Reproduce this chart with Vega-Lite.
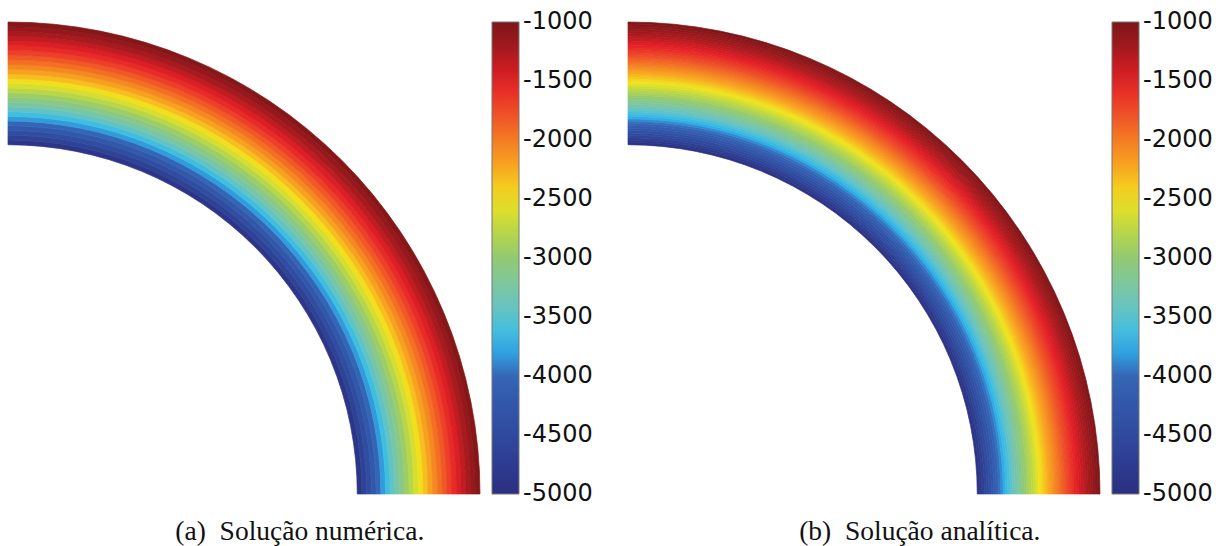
{
  "$schema": "https://vega.github.io/schema/vega-lite/v6.json",
  "padding": {"left": 6, "top": 20, "right": 0, "bottom": 0},
  "background": "white",
  "config": {"view": {"stroke": null}, "font": "DejaVu Sans"},
  "datasets": {
    "numerica": [
      {"r0": 74, "r1": 75, "v": -4880}, {"r0": 75, "r1": 76, "v": -4650}, {"r0": 76, "r1": 77, "v": -4430},
      {"r0": 77, "r1": 78, "v": -4220}, {"r0": 78, "r1": 79, "v": -4020}, {"r0": 79, "r1": 80, "v": -3820},
      {"r0": 80, "r1": 81, "v": -3630}, {"r0": 81, "r1": 82, "v": -3450}, {"r0": 82, "r1": 83, "v": -3270},
      {"r0": 83, "r1": 84, "v": -3100}, {"r0": 84, "r1": 85, "v": -2940}, {"r0": 85, "r1": 86, "v": -2780},
      {"r0": 86, "r1": 87, "v": -2630}, {"r0": 87, "r1": 88, "v": -2480}, {"r0": 88, "r1": 89, "v": -2340},
      {"r0": 89, "r1": 90, "v": -2200}, {"r0": 90, "r1": 91, "v": -2070}, {"r0": 91, "r1": 92, "v": -1940},
      {"r0": 92, "r1": 93, "v": -1820}, {"r0": 93, "r1": 94, "v": -1700}, {"r0": 94, "r1": 95, "v": -1580},
      {"r0": 95, "r1": 96, "v": -1470}, {"r0": 96, "r1": 97, "v": -1360}, {"r0": 97, "r1": 98, "v": -1250},
      {"r0": 98, "r1": 99, "v": -1150}, {"r0": 99, "r1": 100, "v": -1050}
    ],
    "analitica": [
      {"r0": 74, "r1": 74.5, "v": -4941}, {"r0": 74.5, "r1": 75, "v": -4824}, {"r0": 75, "r1": 75.5, "v": -4709},
      {"r0": 75.5, "r1": 76, "v": -4597}, {"r0": 76, "r1": 76.5, "v": -4487}, {"r0": 76.5, "r1": 77, "v": -4378},
      {"r0": 77, "r1": 77.5, "v": -4272}, {"r0": 77.5, "r1": 78, "v": -4168}, {"r0": 78, "r1": 78.5, "v": -4066},
      {"r0": 78.5, "r1": 79, "v": -3966}, {"r0": 79, "r1": 79.5, "v": -3868}, {"r0": 79.5, "r1": 80, "v": -3772},
      {"r0": 80, "r1": 80.5, "v": -3677}, {"r0": 80.5, "r1": 81, "v": -3584}, {"r0": 81, "r1": 81.5, "v": -3493},
      {"r0": 81.5, "r1": 82, "v": -3404}, {"r0": 82, "r1": 82.5, "v": -3316}, {"r0": 82.5, "r1": 83, "v": -3230},
      {"r0": 83, "r1": 83.5, "v": -3145}, {"r0": 83.5, "r1": 84, "v": -3062}, {"r0": 84, "r1": 84.5, "v": -2980},
      {"r0": 84.5, "r1": 85, "v": -2900}, {"r0": 85, "r1": 85.5, "v": -2821}, {"r0": 85.5, "r1": 86, "v": -2744},
      {"r0": 86, "r1": 86.5, "v": -2667}, {"r0": 86.5, "r1": 87, "v": -2592}, {"r0": 87, "r1": 87.5, "v": -2519},
      {"r0": 87.5, "r1": 88, "v": -2447}, {"r0": 88, "r1": 88.5, "v": -2376}, {"r0": 88.5, "r1": 89, "v": -2306},
      {"r0": 89, "r1": 89.5, "v": -2237}, {"r0": 89.5, "r1": 90, "v": -2170}, {"r0": 90, "r1": 90.5, "v": -2103},
      {"r0": 90.5, "r1": 91, "v": -2038}, {"r0": 91, "r1": 91.5, "v": -1973}, {"r0": 91.5, "r1": 92, "v": -1910},
      {"r0": 92, "r1": 92.5, "v": -1848}, {"r0": 92.5, "r1": 93, "v": -1787}, {"r0": 93, "r1": 93.5, "v": -1727},
      {"r0": 93.5, "r1": 94, "v": -1668}, {"r0": 94, "r1": 94.5, "v": -1609}, {"r0": 94.5, "r1": 95, "v": -1552},
      {"r0": 95, "r1": 95.5, "v": -1495}, {"r0": 95.5, "r1": 96, "v": -1440}, {"r0": 96, "r1": 96.5, "v": -1385},
      {"r0": 96.5, "r1": 97, "v": -1331}, {"r0": 97, "r1": 97.5, "v": -1278}, {"r0": 97.5, "r1": 98, "v": -1226},
      {"r0": 98, "r1": 98.5, "v": -1175}, {"r0": 98.5, "r1": 99, "v": -1124}, {"r0": 99, "r1": 99.5, "v": -1074},
      {"r0": 99.5, "r1": 100, "v": -1025}
    ]
  },
  "spacing": 33,
  "resolve": {"scale": {"color": "independent"}, "legend": {"color": "independent"}},
  "hconcat": [
    {
      "width": 472, "height": 472,
      "data": {"name": "numerica"},
      "title": {"text": "(a)\u2002Solução numérica.", "orient": "bottom", "frame": "bounds", "anchor": "middle", "font": "Liberation Serif", "fontSize": 27.5, "fontWeight": "normal", "color": "#111111", "offset": 12},
      "mark": {"type": "arc", "theta": 0, "theta2": 1.5707963, "stroke": {"expr": "scale('concat_0_color', datum.v)"}, "strokeWidth": 0.7},
      "encoding": {
        "x": {"datum": 0, "type": "quantitative", "scale": {"domain": [0, 100]}, "axis": null},
        "y": {"datum": 0, "type": "quantitative", "scale": {"domain": [0, 100]}, "axis": null},
        "radius": {"field": "r0", "type": "quantitative", "scale": {"type": "linear", "domain": [0, 100], "range": [0, 472], "zero": true}},
        "radius2": {"field": "r1"},
        "color": {"field": "v", "type": "quantitative",
          "scale": {"type": "linear", "domain": [-5000,-4750,-4500,-4250,-4000,-3875,-3750,-3625,-3500,-3250,-3000,-2750,-2500,-2250,-2000,-1750,-1500,-1250,-1000],
                    "range": ["#2b2f80","#2e3c90","#2f4a9e","#3256aa","#3566b6","#3488d0","#2eb4ea","#40bee0","#5cc2cc","#7cc6a4","#92ca72","#bcd844","#f2e41c","#f8aa20","#f47c22","#ee4a28","#e41e26","#a81a1e","#7d1618"], "interpolate": "rgb"},
          "legend": {"type": "gradient", "title": null, "direction": "vertical", "orient": "right", "offset": 12, "gradientLength": 472, "gradientThickness": 27, "gradientStrokeColor": "#777777", "gradientStrokeWidth": 1,
            "values": [-1000,-1500,-2000,-2500,-3000,-3500,-4000,-4500,-5000], "labelExpr": "'' + datum.value", "labelFont": "DejaVu Sans", "labelFontSize": 24, "labelColor": "#111111", "labelOffset": 4, "labelOverlap": false,
            "encode": {"labels": {"update": {"baseline": {"value": "middle"}}}}}}
      }
    },
    {
      "width": 472, "height": 472,
      "data": {"name": "analitica"},
      "title": {"text": "(b)\u2002Solução analítica.", "orient": "bottom", "frame": "bounds", "anchor": "middle", "font": "Liberation Serif", "fontSize": 27.5, "fontWeight": "normal", "color": "#111111", "offset": 12},
      "mark": {"type": "arc", "theta": 0, "theta2": 1.5707963, "stroke": {"expr": "scale('concat_1_color', datum.v)"}, "strokeWidth": 0.7},
      "encoding": {
        "x": {"datum": 0, "type": "quantitative", "scale": {"domain": [0, 100]}, "axis": null},
        "y": {"datum": 0, "type": "quantitative", "scale": {"domain": [0, 100]}, "axis": null},
        "radius": {"field": "r0", "type": "quantitative", "scale": {"type": "linear", "domain": [0, 100], "range": [0, 472], "zero": true}},
        "radius2": {"field": "r1"},
        "color": {"field": "v", "type": "quantitative",
          "scale": {"type": "linear", "domain": [-5000,-4750,-4500,-4250,-4000,-3875,-3750,-3625,-3500,-3250,-3000,-2750,-2500,-2250,-2000,-1750,-1500,-1250,-1000],
                    "range": ["#2b2f80","#2e3c90","#2f4a9e","#3256aa","#3566b6","#3488d0","#2eb4ea","#40bee0","#5cc2cc","#7cc6a4","#92ca72","#bcd844","#f2e41c","#f8aa20","#f47c22","#ee4a28","#e41e26","#a81a1e","#7d1618"], "interpolate": "rgb"},
          "legend": {"type": "gradient", "title": null, "direction": "vertical", "orient": "right", "offset": 12, "gradientLength": 472, "gradientThickness": 27, "gradientStrokeColor": "#777777", "gradientStrokeWidth": 1,
            "values": [-1000,-1500,-2000,-2500,-3000,-3500,-4000,-4500,-5000], "labelExpr": "'' + datum.value", "labelFont": "DejaVu Sans", "labelFontSize": 24, "labelColor": "#111111", "labelOffset": 4, "labelOverlap": false,
            "encode": {"labels": {"update": {"baseline": {"value": "middle"}}}}}}
      }
    }
  ]
}
